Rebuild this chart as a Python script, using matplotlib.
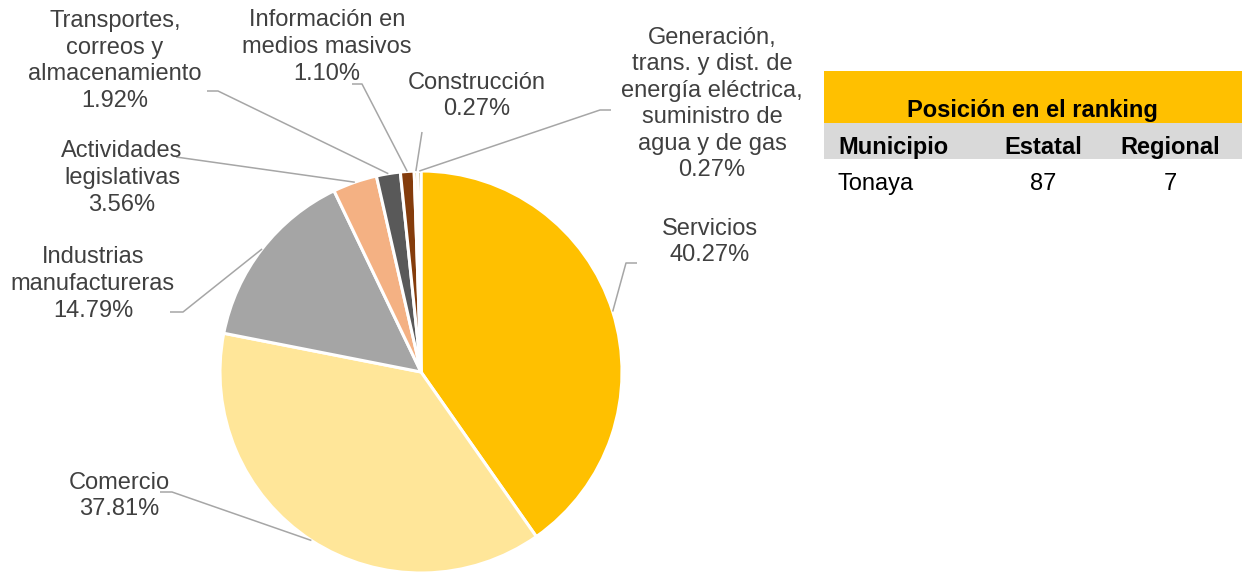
import numpy as np
import matplotlib
matplotlib.use("Agg")
import matplotlib.pyplot as plt
from matplotlib.patches import Rectangle

# --- data ---
sectors = [
    "Servicios",
    "Comercio",
    "Industrias\nmanufactureras",
    "Actividades\nlegislativas",
    "Transportes,\ncorreos y\nalmacenamiento",
    "Información en\nmedios masivos",
    "Construcción",
    "Generación,\ntrans. y dist. de\nenergía eléctrica,\nsuministro de\nagua y de gas",
]
shares = [40.27, 37.81, 14.79, 3.56, 1.92, 1.10, 0.27, 0.27]
colors = ["#FFC000", "#FFE699", "#A5A5A5", "#F4B183",
          "#595959", "#843C0C", "#BF9000", "#7F6000"]

table_title = "Posición en el ranking"
table_header = ["Municipio", "Estatal", "Regional"]
table_row = ["Tonaya", "87", "7"]

# --- layout (pixel coords, y measured from top) ---
W, H = 1244, 573
PIE_CX, PIE_CY, PIE_R = 421, 372, 201
# label centre and leader-line elbow points for each sector
label_pos = [(710, 242), (119, 496), (93, 284), (122, 178),
             (115, 61), (327, 47), (477, 96), (712, 104)]
leader_pts = [
    [(626, 263), (637, 263)],
    [(172, 492), (160, 492)],
    [(183, 312), (170, 312)],
    [(176, 157)],
    [(218, 91), (207, 91)],
    [(362, 84), (352, 84)],
    [(422, 132)],
    [(600, 110), (611, 110)],
]

TEXT = "#404040"
LINE = "#A6A6A6"
FS = 17

plt.rcParams["font.family"] = ["Liberation Sans", "DejaVu Sans"]

fig = plt.figure(figsize=(W / 100, H / 100), dpi=100)
ax = fig.add_axes([0, 0, 1, 1])


def fy(y):
    return H - y


wedges, _ = ax.pie(
    shares, colors=colors, startangle=90, counterclock=False,
    center=(PIE_CX, fy(PIE_CY)), radius=PIE_R,
    wedgeprops=dict(edgecolor="white", linewidth=2.2),
)

for w, name, val, (lx, ly), pts in zip(wedges, sectors, shares, label_pos, leader_pts):
    mid = np.deg2rad((w.theta1 + w.theta2) / 2)
    ax0 = PIE_CX + PIE_R * np.cos(mid)
    ay0 = fy(PIE_CY) + PIE_R * np.sin(mid)
    xs = [ax0] + [p[0] for p in pts]
    ys = [ay0] + [fy(p[1]) for p in pts]
    ax.plot(xs, ys, color=LINE, linewidth=1.1, solid_capstyle="butt", zorder=1)
    ax.text(lx, fy(ly), f"{name}\n{val:.2f}%", ha="center", va="center",
            multialignment="center", fontsize=FS, color=TEXT, linespacing=1.27,
            zorder=3)

# --- ranking table ---
ax.add_patch(Rectangle((824, fy(123)), 418, 52, facecolor="#FFC000", edgecolor="none"))
ax.add_patch(Rectangle((824, fy(159)), 418, 36, facecolor="#D9D9D9", edgecolor="none"))
ax.text(1032, fy(117), table_title, ha="center", va="baseline",
        fontsize=FS, fontweight="bold", color="black")

col_x = [838, 1043, 1170]
col_ha = ["left", "center", "center"]
for x, ha, hd, val in zip(col_x, col_ha, table_header, table_row):
    ax.text(x, fy(154), hd, ha=ha, va="baseline", fontsize=FS,
            fontweight="bold", color="black")
    ax.text(x, fy(190), val, ha=ha, va="baseline", fontsize=FS, color="black")

ax.set_xlim(0, W)
ax.set_ylim(0, H)
ax.set_aspect("auto")
ax.axis("off")

fig.savefig("out.png", dpi=100, facecolor="white")
